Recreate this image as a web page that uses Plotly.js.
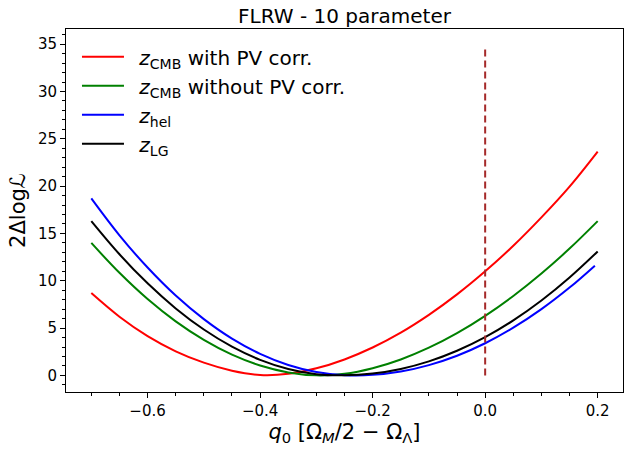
<!DOCTYPE html>
<html>
<head>
<meta charset="utf-8">
<script src="https://cdn.plot.ly/plotly-3.0.1.min.js"></script>
<style>
  body { margin: 0; background: #fff; }
  #plot { width: 634px; height: 454px; }
</style>
</head>
<body>
<div id="plot"></div>
<script>
// q0 grid
var q0 = [-0.70, -0.65, -0.60, -0.55, -0.50, -0.45, -0.40, -0.35, -0.30, -0.25,
          -0.20, -0.15, -0.10, -0.05, 0.00, 0.05, 0.10, 0.15, 0.20];
var q0Hel = [-0.70, -0.65, -0.60, -0.55, -0.50, -0.45, -0.40, -0.35, -0.30, -0.25,
             -0.20, -0.15, -0.10, -0.05, 0.00, 0.05, 0.10, 0.15, 0.195];

var cmbPV   = [8.7, 6.2, 4.15, 2.55, 1.35, 0.5, 0.05, 0.17, 0.75, 1.69,
               2.95, 4.52, 6.4, 8.56, 11.0, 13.7, 16.7, 19.95, 23.65];
var cmbNoPV = [14.0, 10.84, 8.07, 5.71, 3.75, 2.19, 1.05, 0.32, 0.01, 0.17,
               0.76, 1.69, 2.93, 4.47, 6.3, 8.4, 10.77, 13.4, 16.3];
var hel     = [18.7, 14.8, 11.4, 8.44, 5.95, 3.89, 2.28, 1.11, 0.36, 0.03,
               0.06, 0.41, 1.09, 2.08, 3.4, 5.04, 7.0, 9.28, 11.6];
var lg      = [16.3, 12.8, 9.73, 7.08, 4.85, 3.04, 1.65, 0.68, 0.13, 0.01,
               0.2, 0.69, 1.49, 2.61, 4.05, 5.82, 7.92, 10.35, 13.1];

var refX = [0, 0];
var refY = [0, 34.6];

var pad = '\u00a0\u2009';
var names = [pad + '<i>z</i><sub>CMB</sub> with PV corr.',
             pad + '<i>z</i><sub>CMB</sub> without PV corr.',
             pad + '<i>z</i><sub>hel</sub>',
             pad + '<i>z</i><sub>LG</sub>'];

function curve(x, y, name, color, group) {
  return {
    x: x, y: y, name: name, type: 'scatter', mode: 'lines',
    legendgroup: group,
    line: { color: color, width: 2, shape: 'spline', smoothing: 1 }
  };
}

var data = [
  curve(q0, cmbPV, names[0], '#ff0000', 'a'),
  curve(q0, cmbNoPV, names[1], '#008000', 'b'),
  curve(q0Hel, hel, names[2], '#0000ff', 'c'),
  curve(q0, lg, names[3], '#000000', 'd'),
  {
    x: refX, y: refY, type: 'scatter', mode: 'lines', showlegend: false,
    line: { color: '#a52a2a', width: 2, dash: '7px,4px' }
  }
];

var axisBase = {
  showline: true, mirror: true, linecolor: '#000', linewidth: 1,
  showgrid: false, zeroline: false,
  ticks: 'outside', ticklen: 5, tickwidth: 1, tickcolor: '#000',
  tickfont: { size: 15, color: '#000' }
};

var layout = {
  width: 634,
  height: 454,
  margin: { l: 66, r: 11, t: 29, b: 62, pad: 0 },
  paper_bgcolor: '#fff',
  plot_bgcolor: '#fff',
  font: { family: 'DejaVu Sans', color: '#000' },
  title: {
    text: 'FLRW - 10 parameter', font: { size: 20 },
    xref: 'paper', x: 0.5, xanchor: 'center',
    yref: 'container', y: 0.965, yanchor: 'middle'
  },
  xaxis: Object.assign({}, axisBase, {
    range: [-0.745, 0.245],
    dtick: 0.2, tick0: 0, tickformat: '.1f',
    minor: { dtick: 0.05, ticks: 'outside', ticklen: 3, tickcolor: '#000' },
    title: { text: '<i>q</i><sub>0</sub> [Ω<sub><i>M</i></sub>/2 − Ω<sub>Λ</sub>]', font: { size: 21 }, standoff: 4 }
  }),
  yaxis: Object.assign({}, axisBase, {
    range: [-1.75, 36.6],
    dtick: 5, tick0: 0,
    minor: { dtick: 1, ticks: 'outside', ticklen: 3, tickcolor: '#000' },
    title: { text: '2Δlog<i>ℒ</i>', font: { size: 21 }, standoff: 6 }
  }),
  legend: {
    x: 0.0197, y: 0.977, xanchor: 'left', yanchor: 'top',
    bgcolor: 'rgba(255,255,255,0)', borderwidth: 0,
    font: { size: 20 }, itemwidth: 42,
    traceorder: 'grouped', tracegroupgap: 0
  },
  showlegend: true
};

Plotly.newPlot('plot', data, layout, { displayModeBar: false, staticPlot: true });
</script>
</body>
</html>
